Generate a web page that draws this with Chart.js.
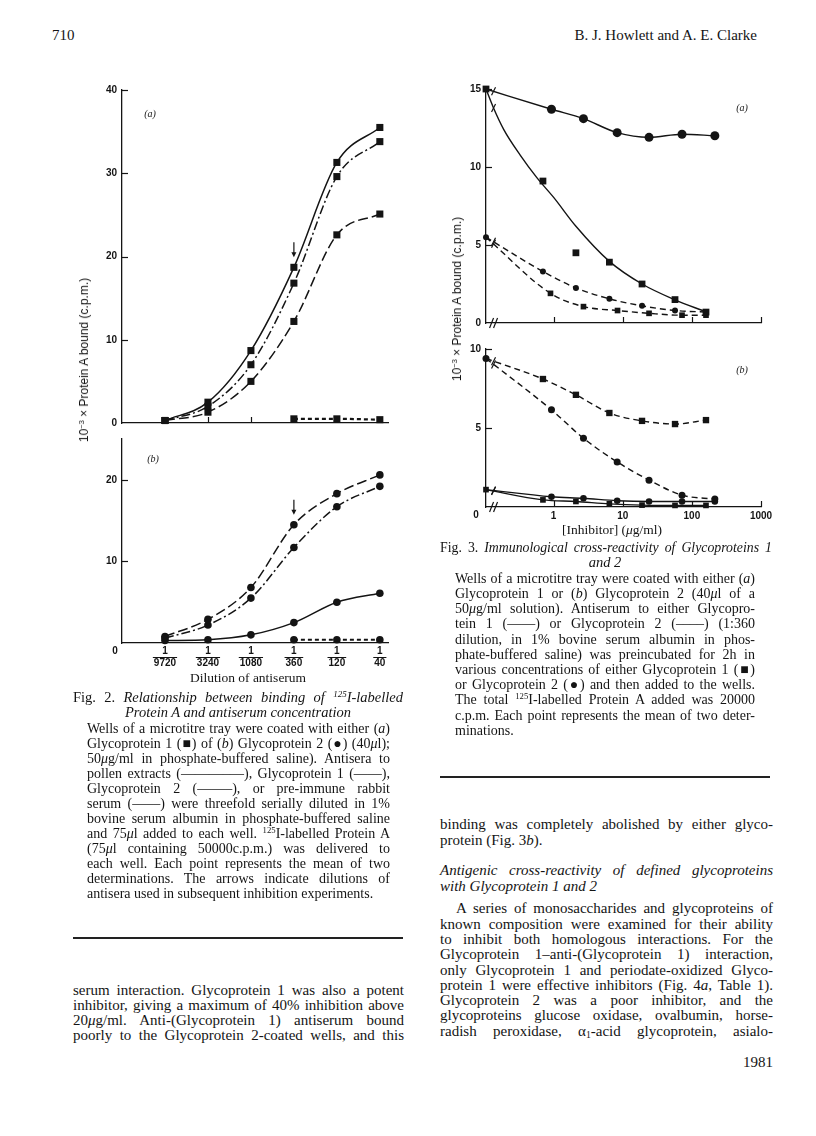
<!DOCTYPE html>
<html>
<head>
<meta charset="utf-8">
<script src="https://cdn.jsdelivr.net/npm/chart.js@4.4.1/dist/chart.umd.min.js"></script>
<style>
  html, body { margin: 0; padding: 0; background: #fff; }
  #page { position: relative; width: 816px; height: 1136px; overflow: hidden; color: #141414;
          font-family: "Liberation Serif", "Times New Roman", serif; }
  .ln { position: absolute; }
  .j { text-align: justify; text-align-last: justify; }
  .l { text-align: left; }
  .c { text-align: center; }
  .r { text-align: right; }
  canvas { position: absolute; }
  .yt { position: absolute; white-space: nowrap; font-family: "Liberation Sans", Arial, sans-serif;
        font-size: 12px; transform: translate(-50%, -50%) rotate(-90deg); }
  .xt { position: absolute; white-space: nowrap; transform: translate(-50%, -50%); font-size: 13.5px; }
  .pl { position: absolute; font-style: italic; font-size: 10px; transform: translate(-50%, -50%); }
  sup { font-size: 0.62em; line-height: 0; vertical-align: 0.55em; }
  sub { font-size: 0.65em; line-height: 0; vertical-align: -0.2em; }
  .rule { position: absolute; height: 1.5px; background: #222; }
</style>
</head>
<body>
<div id="page">
  <canvas id="f2a"></canvas>
  <canvas id="f2b"></canvas>
  <canvas id="f3a"></canvas>
  <canvas id="f3b"></canvas>

  <div class="yt" style="left:84px;top:360px">10<sup>−3</sup> × Protein A bound (c.p.m.)</div>
  <div class="yt" style="left:457px;top:299px">10<sup>−3</sup> × Protein A bound (c.p.m.)</div>
  <div class="xt" style="left:248px;top:678px">Dilution of antiserum</div>
  <div class="xt" style="left:612px;top:530px">[Inhibitor] (<i>μ</i>g/ml)</div>
  <div class="pl" style="left:150px;top:113px">(a)</div>
  <div class="pl" style="left:153px;top:458px">(b)</div>
  <div class="pl" style="left:742px;top:107px">(a)</div>
  <div class="pl" style="left:742px;top:369px">(b)</div>

  <div class="rule" style="left:73px;top:937px;width:330px"></div>
  <div class="rule" style="left:440px;top:776px;width:330px"></div>
</div>

<script>
const INK = "#141414";
const SANS = "'Liberation Sans', Arial, sans-serif";

// ---- Fig. 2 : dilution of antiserum (threefold series) ----
const dilutions = ["9720", "3240", "1080", "360", "120", "40"];
const dilutionPos = [1, 2, 3, 4, 5, 6];
// (a) Glycoprotein 1-coated wells
const f2aGp1Serum = [0.3, 2.5, 8.7, 18.7, 31.3, 35.5];
const f2aPollenSerum = [0.3, 2.0, 7.0, 16.8, 29.6, 33.8];
const f2aGp2Serum = [0.3, 1.3, 5.0, 12.2, 22.6, 25.1];
const f2aPreImmune = [null, null, null, 0.5, 0.5, 0.4];
// (b) Glycoprotein 2-coated wells
const f2bGp2Serum = [0.8, 2.9, 6.8, 14.5, 18.3, 20.6];
const f2bPollenSerum = [0.6, 2.2, 5.5, 11.7, 16.7, 19.2];
const f2bGp1Serum = [0.3, 0.4, 1.0, 2.5, 5.0, 6.1];
const f2bPreImmune = [null, null, null, 0.4, 0.4, 0.4];

// ---- Fig. 3 : inhibitor concentration (ug/ml), 0 = no inhibitor ----
const X_ZERO = 0.105; // where "0" sits on the log axis
const concSq = [0, 0.7, 2.1, 6.4, 19, 57, 160];
const concCi = [0, 0.93, 2.7, 8.3, 24, 72, 215];
const concCi2 = [0, 0.9, 2.7, 8.4, 24, 72, 160];
const concFit = [0, 0.133, 0.19, 0.33, 0.575, 1.0, 2.1, 6.4, 19, 56, 162];
// (a) Glycoprotein 1-coated wells
const f3aAnti1Gp2 = [15, 13.7, 13.1, 12.2, 11.9, 12.1, 12.0];
const f3aAnti1Gp1 = [15, 9.1, 4.5, 3.9, 2.5, 1.5, 0.7];
const f3aAnti1Gp1Curve = [15, 13.85, 12.4, 10.75, 9.3, 8.05, 6.2, 3.95, 2.5, 1.5, 0.7];
const f3aAnti2Gp2 = [5.5, 3.3, 2.25, 1.55, 1.1, 0.8, 0.7];
const f3aAnti2Gp1 = [5.5, 1.9, 1.05, 0.8, 0.62, 0.5, 0.5];
// (b) Glycoprotein 2-coated wells
const f3bAnti2Gp1 = [9.4, 8.1, 7.1, 5.95, 5.45, 5.25, 5.5];
const f3bAnti2Gp2 = [9.4, 6.15, 4.35, 2.85, 1.7, 0.75, 0.5];
const f3bAnti1Gp2 = [1.1, 0.65, 0.55, 0.4, 0.35, 0.35, 0.35];
const f3bAnti1Gp1 = [1.1, 0.45, 0.35, 0.2, 0.12, 0.1, 0.1];

// Draws the bits of the printed figure Chart.js has no option for:
// inward ticks, arrows, axis breaks, fraction bars, shared "0" labels
const paperMarks = {
  id: "paperMarks",
  afterDraw(chart, args, o) {
    const { ctx, chartArea } = chart;
    const xs = chart.scales.x, ys = chart.scales.y;
    const B = chartArea.bottom, L = chartArea.left;
    const seg = (x1, y1, x2, y2) => { ctx.beginPath(); ctx.moveTo(x1, y1); ctx.lineTo(x2, y2); ctx.stroke(); };
    ctx.save();
    ctx.strokeStyle = INK;
    ctx.fillStyle = INK;
    ctx.lineWidth = 1.2;

    (o.xTicks || []).forEach((v) => { const px = Math.round(xs.getPixelForValue(v)) + 0.5; seg(px, B, px, B - 6); });
    (o.yTicks || []).forEach((v) => { const py = Math.round(ys.getPixelForValue(v)) + 0.5; seg(L, py, L + 6, py); });

    if (o.arrow) {
      const ax = xs.getPixelForValue(o.arrow.x);
      const tip = ys.getPixelForValue(o.arrow.y) - 10;
      seg(ax, tip - 15, ax, tip - 3);
      ctx.beginPath();
      ctx.moveTo(ax - 2.5, tip - 5);
      ctx.lineTo(ax + 2.5, tip - 5);
      ctx.lineTo(ax, tip);
      ctx.closePath();
      ctx.fill();
    }

    if (o.breakAt) {
      const bx = xs.getPixelForValue(o.breakAt);
      seg(bx - 4, B + 5, bx, B - 5);
      seg(bx, B + 5, bx + 4, B - 5);
      chart.data.datasets.forEach((ds, i) => {
        if (ds.showLine === false || ds.data[0].x !== X_ZERO) return;
        const pts = chart.getDatasetMeta(i).data;
        const p0 = pts[0], p1 = pts[1];
        const t = (bx - p0.x) / (p1.x - p0.x);
        const y = p0.y + t * (p1.y - p0.y);
        seg(bx - 2, y + 4, bx + 2, y - 4);
      });
    }

    if (o.fractions) {
      ctx.font = "bold 10px " + SANS;
      dilutions.forEach((d, i) => {
        const px = xs.getPixelForValue(dilutionPos[i]);
        const w = ctx.measureText(d).width + 2;
        ctx.lineWidth = 1;
        seg(px - w / 2, B + 14.5, px + w / 2, B + 14.5);
      });
    }

    if (o.zeroLabel) {
      ctx.font = "bold 10px " + SANS;
      ctx.textAlign = "center";
      ctx.textBaseline = "middle";
      ctx.fillText("0", o.zeroLabel.x - chart.canvas.offsetLeft, o.zeroLabel.y - chart.canvas.offsetTop);
    }
    ctx.restore();
  },
};

function series(xs, ys, s) {
  const pts = [];
  xs.forEach((x, i) => { if (ys[i] !== null) pts.push({ x: x === 0 ? X_ZERO : x, y: ys[i] }); });
  return {
    data: pts,
    borderColor: INK,
    backgroundColor: INK,
    borderWidth: s.w || 1.4,
    borderDash: s.dash || [],
    showLine: s.line !== false,
    pointStyle: s.pt || "circle",
    pointRadius: (c) => (c.dataIndex === 0 && s.hideFirst ? 0 : s.r || 0),
    pointBorderWidth: 0,
    cubicInterpolationMode: "monotone",
    fill: false,
    clip: false,
  };
}

const tickFont = { family: SANS, size: 10, weight: "bold", lineHeight: 1.2 };

function axis(extra, tickVals, fit) {
  return Object.assign({
    grid: { display: false, drawTicks: false },
    border: { display: true, color: INK, width: 1.3 },
    afterBuildTicks: (s) => { s.ticks = tickVals.map((v) => ({ value: v })); },
    afterFit: fit,
  }, extra);
}

function makePanel(id, f, xOpts, xTicks, yOpts, yTicks, datasets, marks) {
  const el = document.getElementById(id);
  const w = f.R + f.pr - (f.L - f.yw);
  const h = f.B + f.xh - (f.T - f.pt);
  el.width = w;
  el.height = h;
  el.style.left = f.L - f.yw + "px";
  el.style.top = f.T - f.pt + "px";
  el.style.width = w + "px";
  el.style.height = h + "px";
  return new Chart(el, {
    type: "line",
    data: { datasets },
    options: {
      responsive: false,
      animation: false,
      events: [],
      layout: { padding: { top: f.pt, right: f.pr, left: 0, bottom: 0 } },
      plugins: { legend: { display: false }, tooltip: { enabled: false }, paperMarks: marks },
      scales: {
        x: axis(xOpts, xTicks, (s) => { s.height = f.xh; }),
        y: axis(yOpts, yTicks, (s) => { s.width = f.yw; }),
      },
    },
    plugins: [paperMarks],
  });
}

const SOLID = [], LONG = [10, 4], DASHDOT = [9, 3, 2, 3], DOTS = [4, 3], DASH3 = [6, 4];
const dilX = { type: "linear", min: 0, max: 6.19 };
const yTickOpts = (hideZero) => ({
  font: tickFont, color: INK, padding: 5,
  callback: (v) => (hideZero && v === 0 ? "" : String(v)),
});

// Fig. 2a
makePanel("f2a", { L: 122, T: 87, R: 388, B: 430, yw: 42, pt: 8, pr: 10, xh: 4 },
  Object.assign({ ticks: { display: false } }, dilX), dilutionPos,
  { type: "linear", min: 0, max: 40, ticks: yTickOpts(false) }, [0, 10, 20, 30, 40],
  [
    series(dilutionPos, f2aGp1Serum, { dash: SOLID, pt: "rect", r: 5, w: 1.5 }),
    series(dilutionPos, f2aPollenSerum, { dash: DASHDOT, pt: "rect", r: 5, w: 1.5 }),
    series(dilutionPos, f2aGp2Serum, { dash: LONG, pt: "rect", r: 5, w: 1.5 }),
    series(dilutionPos, f2aPreImmune, { dash: DOTS, pt: "rect", r: 5, w: 2.2 }),
  ],
  { xTicks: [2, 3, 4, 5], yTicks: [10, 20, 30, 40], arrow: { x: 4, y: f2aGp1Serum[3] } });

// Fig. 2b
makePanel("f2b", { L: 122, T: 430, R: 388, B: 643, yw: 42, pt: 2, pr: 10, xh: 28 },
  Object.assign({
    ticks: { display: true, font: tickFont, color: INK, padding: 2, maxRotation: 0, autoSkip: false,
             callback: (v) => ["1", dilutions[dilutionPos.indexOf(v)]] },
  }, dilX), dilutionPos,
  { type: "linear", min: 0, max: 25, ticks: yTickOpts(true) }, [0, 10, 20],
  [
    series(dilutionPos, f2bGp2Serum, { dash: LONG, pt: "circle", r: 3.8, w: 1.5 }),
    series(dilutionPos, f2bPollenSerum, { dash: DASHDOT, pt: "circle", r: 3.8, w: 1.5 }),
    series(dilutionPos, f2bGp1Serum, { dash: SOLID, pt: "circle", r: 3.8, w: 1.5 }),
    series(dilutionPos, f2bPreImmune, { dash: DOTS, pt: "circle", r: 3.8, w: 2.2 }),
  ],
  { yTicks: [10, 20], arrow: { x: 4, y: f2bGp2Serum[3] }, fractions: true, zeroLabel: { x: 115, y: 651 } });

// Fig. 3a
const logX = { type: "logarithmic", min: X_ZERO, max: 1000 };
makePanel("f3a", { L: 486, T: 88, R: 761, B: 330, yw: 40, pt: 10, pr: 10, xh: 4 },
  Object.assign({ ticks: { display: false } }, logX), [X_ZERO, 1, 10, 100, 1000],
  { type: "linear", min: 0, max: 15, ticks: yTickOpts(false) }, [0, 5, 10, 15],
  [
    series(concCi, f3aAnti1Gp2, { dash: SOLID, pt: "circle", r: 4.5, hideFirst: true }),
    series(concFit, f3aAnti1Gp1Curve, { dash: SOLID, r: 0 }),
    series(concSq, f3aAnti1Gp1, { line: false, pt: "rect", r: 4.8 }),
    series(concSq, f3aAnti2Gp2, { dash: DASH3, pt: "circle", r: 3 }),
    series(concCi2, f3aAnti2Gp1, { dash: DASH3, pt: "rect", r: 4, hideFirst: true }),
  ],
  { xTicks: [1, 10, 100, 1000], yTicks: [5, 10, 15], breakAt: 0.135 });

// Fig. 3b
makePanel("f3b", { L: 486, T: 346, R: 761, B: 507, yw: 40, pt: 8, pr: 16, xh: 18 },
  Object.assign({
    ticks: { display: true, font: tickFont, color: INK, padding: 3, maxRotation: 0, autoSkip: false,
             callback: (v) => (v === X_ZERO ? "" : String(v)) },
  }, logX), [X_ZERO, 1, 10, 100, 1000],
  { type: "linear", min: 0, max: 10, ticks: yTickOpts(true) }, [0, 5, 10],
  [
    series(concSq, f3bAnti2Gp1, { dash: DASH3, pt: "rect", r: 4.5, hideFirst: true }),
    series(concCi, f3bAnti2Gp2, { dash: DASH3, pt: "circle", r: 3.5 }),
    series(concCi, f3bAnti1Gp2, { dash: SOLID, pt: "circle", r: 3.3, hideFirst: true }),
    series(concSq, f3bAnti1Gp1, { dash: SOLID, pt: "rect", r: 4 }),
  ],
  { xTicks: [1, 10, 100, 1000], yTicks: [5, 10], breakAt: 0.135, zeroLabel: { x: 476, y: 515 } });

// ---- page text ----
const page = document.getElementById("page");
function put(html, x, y, w, size, cls, extra) {
  const d = document.createElement("div");
  d.className = "ln " + cls;
  d.innerHTML = html;
  d.style.left = x + "px";
  d.style.top = y - size * 0.58 + "px";
  if (w) d.style.width = w + "px";
  d.style.fontSize = size + "px";
  d.style.lineHeight = size + "px";
  if (extra) Object.assign(d.style, extra);
  page.appendChild(d);
}
function block(lines, x, y0, dy, w, size, lastCls) {
  lines.forEach((t, i) => put(t, x, y0 + i * dy, w, size, i === lines.length - 1 ? lastCls || "l" : "j"));
}

put("710", 52, 37, 0, 15, "l");
put("B. J. Howlett and A. E. Clarke", 457, 37, 300, 15, "r");

put("Fig. 2. <i>Relationship between binding of <sup>125</sup>I-labelled</i>", 73, 698, 330, 14.5, "j");
put("<i>Protein A and antiserum concentration</i>", 73, 713, 330, 14.5, "c");
block([
  "Wells of a microtitre tray were coated with either (<i>a</i>)",
  "Glycoprotein 1 (■) of (<i>b</i>) Glycoprotein 2 (●) (40<i>μ</i>l);",
  "50<i>μ</i>g/ml in phosphate-buffered saline). Antisera to",
  "pollen extracts (———–—), Glycoprotein 1 (——),",
  "Glycoprotein 2 (——–), or pre-immune rabbit",
  "serum (––––) were threefold serially diluted in 1%",
  "bovine serum albumin in phosphate-buffered saline",
  "and 75<i>μ</i>l added to each well. <sup>125</sup>I-labelled Protein A",
  "(75<i>μ</i>l containing 50000c.p.m.) was delivered to",
  "each well. Each point represents the mean of two",
  "determinations. The arrows indicate dilutions of",
  "antisera used in subsequent inhibition experiments.",
], 87, 730, 15, 303, 14);

block([
  "serum interaction. Glycoprotein 1 was also a potent",
  "inhibitor, giving a maximum of 40% inhibition above",
  "20<i>μ</i>g/ml. Anti-(Glycoprotein 1) antiserum bound",
  "poorly to the Glycoprotein 2-coated wells, and this",
], 73, 992, 15, 331, 15, "j");

put("Fig. 3. <i>Immunological cross-reactivity of Glycoproteins 1</i>", 440, 549, 332, 13.8, "j");
put("<i>and 2</i>", 440, 563, 330, 14.5, "c");
block([
  "Wells of a microtitre tray were coated with either (<i>a</i>)",
  "Glycoprotein 1 or (<i>b</i>) Glycoprotein 2 (40<i>μ</i>l of a",
  "50<i>μ</i>g/ml solution). Antiserum to either Glycopro-",
  "tein 1 (——) or Glycoprotein 2 (––––) (1:360",
  "dilution, in 1% bovine serum albumin in phos-",
  "phate-buffered saline) was preincubated for 2h in",
  "various concentrations of either Glycoprotein 1 (■)",
  "or Glycoprotein 2 (●) and then added to the wells.",
  "The total <sup>125</sup>I-labelled Protein A added was 20000",
  "c.p.m. Each point represents the mean of two deter-",
  "minations.",
], 455, 580, 15.2, 300, 14);

block([
  "binding was completely abolished by either glyco-",
  "protein (Fig. 3<i>b</i>).",
], 440, 826, 15.3, 333, 15);
block([
  "<i>Antigenic cross-reactivity of defined glycoproteins</i>",
  "<i>with Glycoprotein 1 and 2</i>",
], 440, 872, 15.3, 333, 15);
put("A series of monosaccharides and glycoproteins of", 456, 910, 317, 15, "j");
block([
  "known composition were examined for their ability",
  "to inhibit both homologous interactions. For the",
  "Glycoprotein 1–anti-(Glycoprotein 1) interaction,",
  "only Glycoprotein 1 and periodate-oxidized Glyco-",
  "protein 1 were effective inhibitors (Fig. 4<i>a</i>, Table 1).",
  "Glycoprotein 2 was a poor inhibitor, and the",
  "glycoproteins glucose oxidase, ovalbumin, horse-",
  "radish peroxidase, α<sub>1</sub>-acid glycoprotein, asialo-",
], 440, 925.3, 15.3, 333, 15, "j");
put("1981", 673, 1064, 100, 15, "r");
</script>
</body>
</html>
